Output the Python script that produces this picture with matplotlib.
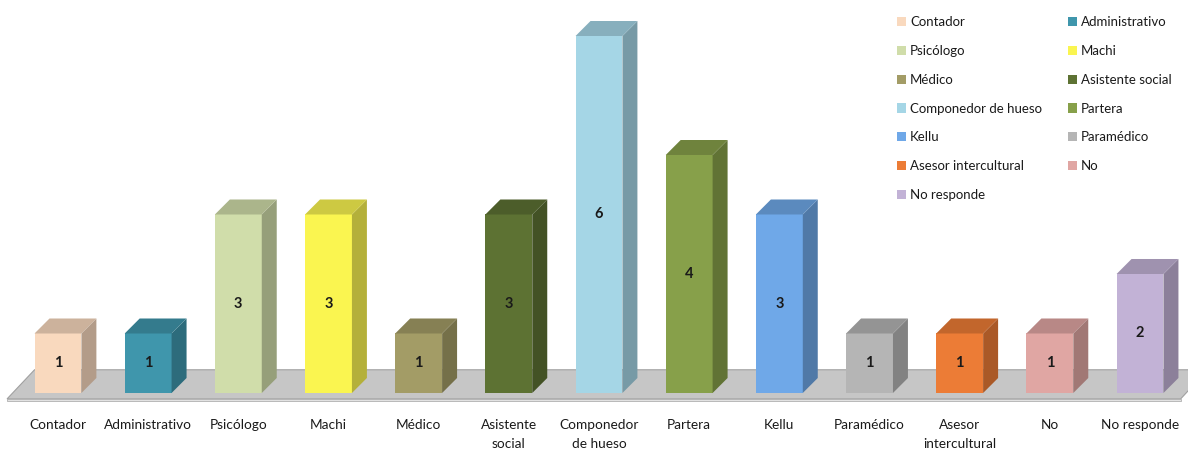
import numpy as np
import matplotlib.pyplot as plt
from matplotlib.patches import Polygon, Patch
from matplotlib import colors as mcolors

plt.rcParams['font.family'] = ['Lato', 'DejaVu Sans']

# Respondents by profession
categories = ['Contador', 'Administrativo', 'Psicólogo', 'Machi', 'Médico',
              'Asistente social', 'Componedor de hueso', 'Partera', 'Kellu',
              'Paramédico', 'Asesor intercultural', 'No', 'No responde']
tick_labels = ['Contador', 'Administrativo', 'Psicólogo', 'Machi', 'Médico',
               'Asistente\nsocial', 'Componedor\nde hueso', 'Partera', 'Kellu',
               'Paramédico', 'Asesor\nintercultural', 'No', 'No responde']
values = [1, 1, 3, 3, 1, 3, 6, 4, 3, 1, 1, 1, 2]
bar_colors = ['#F9D9BE', '#3F96AC', '#D0DDAA', '#FAF550', '#A39C66', '#5D7233',
              '#A5D6E6', '#87A04A', '#6FA8E8', '#B5B5B5', '#EC7C36', '#E0A6A3',
              '#C2B2D6']


def shade(c, f):
    r, g, b = mcolors.to_rgb(c)
    return (r * f, g * f, b * f)


fig = plt.figure(figsize=(11.88, 4.51), dpi=100)
ax = fig.add_axes([0, 0, 1, 1])
ax.set_xlim(-0.643, 12.532)
ax.set_ylim(-0.975, 6.605)
ax.axis('off')

x = np.arange(len(values))
w = 0.52      # bar width
dx = 0.166    # depth offset (x)
dy = 0.252    # depth offset (y)

# grey floor under the bars
floor = Polygon([(-0.565, -0.1), (12.45, -0.1), (12.75, 0.39), (-0.26, 0.39)],
                closed=True, facecolor='#c6c6c6', edgecolor='#a0a0a0', lw=0.8, zorder=1)
ax.add_patch(floor)
ax.add_patch(Polygon([(-0.565, -0.1), (12.45, -0.1), (12.45, -0.14), (-0.565, -0.14)],
                     closed=True, facecolor='#e2e2e2', edgecolor='#b0b0b0', lw=0.6, zorder=1))

ax.bar(x, values, width=w, color=bar_colors, zorder=3)
for xi, v, c in zip(x, values, bar_colors):
    right = xi + w / 2
    left = xi - w / 2
    side = Polygon([(right, 0), (right + dx, dy), (right + dx, v + dy), (right, v)],
                   closed=True, facecolor=shade(c, 0.72), edgecolor='none', zorder=3)
    top = Polygon([(left, v), (left + dx, v + dy), (right + dx, v + dy), (right, v)],
                  closed=True, facecolor=shade(c, 0.82), edgecolor='none', zorder=3)
    ax.add_patch(side)
    ax.add_patch(top)
    ax.text(xi, v / 2, str(v), ha='center', va='center', fontsize=10.5,
            fontweight='bold', color='#1a1a1a', zorder=4)

for xi, lab in zip(x, tick_labels):
    ax.text(xi, -0.43, lab, ha='center', va='top', fontsize=9.8,
            color='#1a1a1a', linespacing=1.7)

# legend laid out row by row
handles = [Patch(facecolor=c, edgecolor='none') for c in bar_colors]
order = list(range(0, len(values), 2)) + list(range(1, len(values), 2))
fig.legend([handles[i] for i in order], [categories[i] for i in order],
           ncol=2, loc='upper left', bbox_to_anchor=(0.745, 0.99),
           frameon=False, fontsize=9.5, handlelength=0.7, handleheight=0.7,
           handletextpad=0.3, labelspacing=1.27, columnspacing=1.95,
           labelcolor='#1a1a1a')

fig.savefig('out.png', dpi=100)
